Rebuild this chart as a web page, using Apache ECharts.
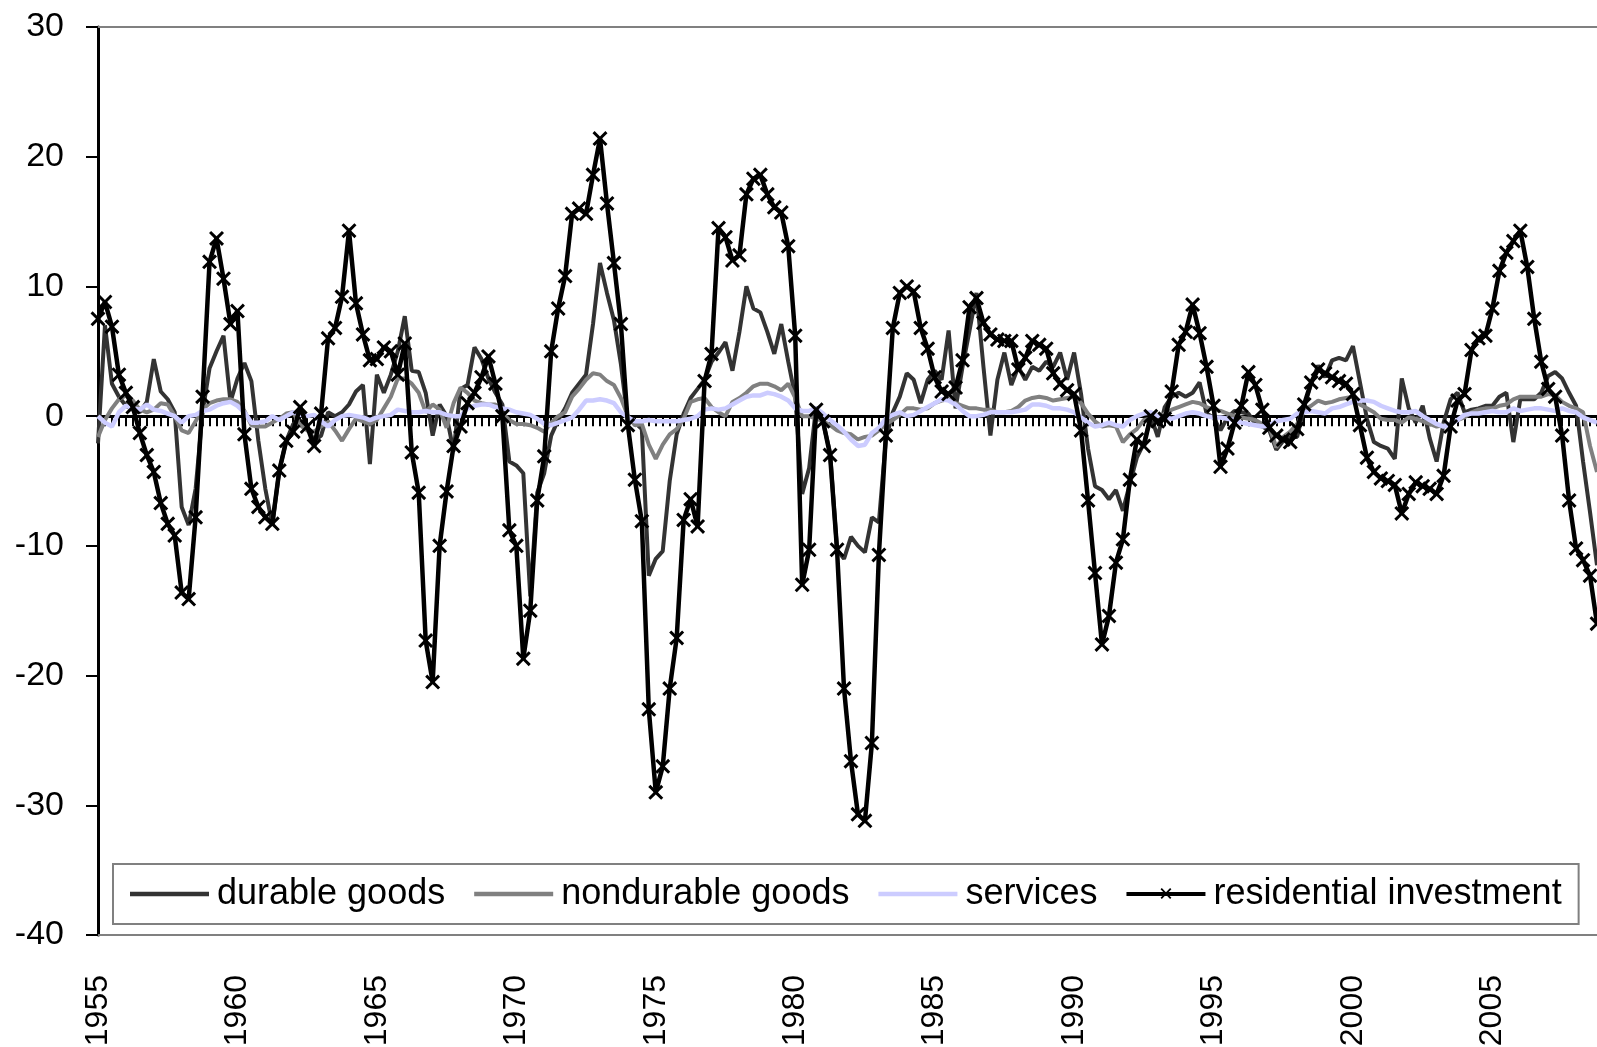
<!DOCTYPE html>
<html>
<head>
<meta charset="utf-8">
<script src="https://cdn.jsdelivr.net/npm/echarts@6/dist/echarts.min.js"></script>
<style>
html,body{margin:0;padding:0;background:#fff;}
#chart{width:1597px;height:1047px;}
</style>
</head>
<body>
<div id="chart"></div>
<script>
// Quarterly, 1955 Q1 .. 2008 Q4 (one row = one year)
var startYear = 1955;
var endYear = 2008;
var seriesNames = ['durable goods', 'nondurable goods', 'services', 'residential investment'];
var seriesColors = ['#333333', '#808080', '#ccccff', '#000000'];
var yTicks = [-40, -30, -20, -10, 0, 10, 20, 30];

var durable = [
  -2.1, 7.0, 2.5, 1.5,
  0.8, 0.5, 0.3, 1.1,
  4.4, 1.9, 1.3, 0.3,
  -7.0, -8.4, -5.6, 0.3,
  3.7, 5.0, 6.2, 1.1,
  2.9, 4.1, 2.7, -1.9,
  -5.6, -8.4, -4.2, -1.9,
  -0.6, -0.4, -0.8, -1.9,
  -1.5, 0.3, 0.0, 0.3,
  0.9, 1.9, 2.4, -3.7,
  3.2, 1.8, 3.2, 5.0,
  7.7, 3.5, 3.4, 1.8,
  -1.5, 0.9, 0.0, -2.7,
  2.1, 2.4, 5.3, 4.4,
  2.9, 1.8, 0.9, -3.5,
  -3.8, -4.4, -13.9, -5.9,
  -4.4, -1.5, -0.3, 0.6,
  1.8, 2.5, 3.2, 7.1,
  11.8, 9.5, 7.4, 4.0,
  -0.4, -0.5, -1.0, -12.3,
  -11.0, -10.4, -5.0, -1.4,
  0.2, 1.4, 2.1, 2.8,
  4.2, 4.9, 5.7, 3.5,
  6.5, 10.0, 8.3, 8.0,
  6.5, 4.8, 7.1, 4.2,
  1.5, -6.0, -4.0, 0.7,
  -0.5, -2.8, -10.3, -11.0,
  -9.3, -10.0, -10.5, -7.8,
  -8.2, -1.8, 0.3, 1.5,
  3.3, 2.8, 1.0, 2.8,
  3.5, 2.8, 6.6, 0.6,
  3.8, 6.6, 9.5, 3.8,
  -1.5, 2.8, 4.9, 2.4,
  3.8, 2.8, 3.8, 3.5,
  4.2, 3.8, 4.9, 2.8,
  4.9, 1.7, -2.5, -5.4,
  -5.7, -6.4, -5.7, -7.3,
  -5.2, -3.2, -2.1, 0.0,
  -1.6, 0.7, 1.5, 1.8,
  1.5, 1.8, 2.6, 0.2,
  -0.1, -1.1, -0.1, 0.4,
  0.3, 0.2, -0.6, -0.8,
  -1.1, -2.6, -1.9, -1.6,
  -1.6, 0.7, 2.5, 3.9,
  3.0, 4.3, 4.5, 4.3,
  5.4, 2.6, -0.2, -2.0,
  -2.3, -2.5, -3.3, 2.9,
  0.6, -0.5, 0.8, -1.7,
  -3.5, -0.5, 1.3, 1.8,
  0.3, 0.5, 0.6, 0.8,
  0.8, 1.5, 1.8, -2.0,
  1.3, 1.3, 1.3, 1.8,
  3.1, 3.4, 2.9, 1.8,
  0.8, -3.5, -7.4, -11.5
];

var nondurable = [
  -1.6, -0.3, 0.6, 1.3,
  1.6, 1.2, 0.5, 0.3,
  0.5, 1.0, 0.9, 0.0,
  -1.1, -1.3, -0.4, 0.5,
  1.0, 1.2, 1.3, 1.3,
  1.1, 0.4, -0.7, -0.8,
  -0.8, -0.5, -0.2, 0.2,
  0.3, -0.7, -1.1, -1.2,
  -0.8, -0.4, -1.1, -1.9,
  -1.0, -0.2, -0.4, -0.6,
  -0.3, 0.6, 1.5, 2.9,
  2.9, 2.5, 1.8, 0.3,
  0.9, 0.5, -0.9, 1.0,
  2.2, 1.8, 1.2, 1.0,
  0.9, 0.9, 0.2, -0.3,
  -0.6, -0.6, -0.7, -0.9,
  -1.2, -0.5, 0.0, 0.3,
  1.5, 2.1, 2.8, 3.3,
  3.2, 2.7, 2.4, 1.4,
  0.0, -0.7, -0.6, -2.2,
  -3.3, -2.2, -1.4, -1.0,
  -0.2, 1.1, 1.3, 1.4,
  0.7, 0.3, 0.0, 1.1,
  1.4, 1.8, 2.3, 2.5,
  2.5, 2.3, 2.0, 2.5,
  1.4, 0.0, 0.0, -0.2,
  -0.4, -0.7, -1.1, -1.3,
  -1.4, -1.8, -1.6, -1.5,
  -1.1, -0.6, -0.3, 0.1,
  0.6, 0.6, 0.5, 0.6,
  1.0, 1.2, 1.3, 1.0,
  0.8, 0.6, 0.6, 0.5,
  0.5, 0.3, 0.3, 0.4,
  0.7, 1.2, 1.4, 1.5,
  1.4, 1.2, 1.3, 1.4,
  1.5, 1.0, 0.2, -0.4,
  -0.8, -0.7, -0.8, -2.0,
  -1.4, -1.0, -0.3, -0.2,
  -0.2, 0.2, 0.5, 0.7,
  0.9, 1.1, 1.0, 0.7,
  0.5, 0.4, 0.2, 0.0,
  -0.1, -0.2, -0.3, -0.6,
  -0.8, -2.4, -1.6, -1.2,
  -0.6, 0.5, 0.8, 1.2,
  1.0, 1.1, 1.3, 1.4,
  1.5, 0.9, 0.6, 0.3,
  -0.2, -0.3, -0.3, -0.5,
  -0.1, -0.2, -0.4, -0.6,
  -0.8, -0.7, -0.6, -0.3,
  -0.1, 0.3, 0.5, 0.6,
  0.6, 0.8, 0.9, 1.3,
  1.5, 1.5, 1.5, 1.5,
  1.7, 1.6, 1.1, 0.8,
  0.6, 0.3, -2.3, -4.3
];

var services = [
  0.0, -0.5, -0.8, 0.3,
  0.8, 0.6, 0.5, 0.9,
  0.5, 0.4, 0.2, 0.0,
  -0.5, 0.0, 0.1, 0.4,
  0.5, 0.8, 1.0, 1.1,
  0.8, 0.3, -0.5, -0.5,
  -0.4, 0.0, -0.3, 0.0,
  0.3, 0.1, 0.0, 0.1,
  -0.4, -0.8, -0.3, 0.0,
  0.1, 0.0, -0.1, -0.3,
  -0.1, 0.0, 0.1, 0.5,
  0.4, 0.3, 0.3, 0.4,
  0.3, 0.3, 0.1, 0.0,
  0.0, 0.6, 0.8, 0.9,
  0.9, 0.7, 0.6, 0.5,
  0.3, 0.2, 0.1, -0.2,
  -0.6, -0.7, -0.5, -0.3,
  -0.1, 0.5, 1.2, 1.2,
  1.3, 1.2, 1.0, 0.3,
  -0.1, -0.4, -0.4, -0.3,
  -0.4, -0.4, -0.4, -0.4,
  -0.3, -0.2, 0.0, 0.5,
  0.6, 0.5, 0.6, 0.9,
  1.2, 1.5, 1.6, 1.6,
  1.8, 1.7, 1.5, 1.2,
  0.6, 0.4, 0.4, 0.6,
  0.2, -0.3, -0.7, -1.2,
  -1.8, -2.3, -2.2, -1.3,
  -0.9, -0.2, 0.1, 0.3,
  0.0, 0.1, 0.4, 0.7,
  1.0, 1.3, 1.2, 0.9,
  0.4, 0.0, 0.0, 0.1,
  0.3, 0.3, 0.3, 0.3,
  0.4, 0.5, 0.9, 0.9,
  0.8, 0.6, 0.6, 0.5,
  0.3, -0.1, -0.5, -0.8,
  -0.7, -0.5, -0.7, -0.8,
  -0.3, 0.0, 0.2, 0.3,
  0.0, -0.1, -0.2, 0.0,
  0.2, 0.3, 0.2, 0.0,
  -0.1, -0.1, -0.2, -0.3,
  -0.5, -0.6, -0.7, -0.8,
  -0.7, -0.4, -0.3, -0.2,
  0.2, 0.3, 0.4, 0.3,
  0.2, 0.6, 0.7, 0.9,
  1.1, 1.2, 1.2, 1.1,
  0.8, 0.6, 0.4, 0.3,
  0.3, 0.4, 0.0, -0.3,
  -0.6, -0.8, -0.6, -0.3,
  0.1, 0.2, 0.2, 0.3,
  0.4, 0.3, 0.3, 0.6,
  0.4, 0.5, 0.6, 0.6,
  0.5, 0.4, 0.6, 0.4,
  0.3, -0.1, -0.3, -0.5
];

var residential = [
  7.5, 8.8, 6.9, 3.2,
  1.8, 0.7, -1.3, -3.0,
  -4.3, -6.7, -8.3, -9.2,
  -13.6, -14.1, -7.8, 1.5,
  11.9, 13.7, 10.6, 7.1,
  8.1, -1.4, -5.6, -7.0,
  -7.8, -8.3, -4.2, -1.9,
  -1.2, 0.7, -0.8, -2.3,
  0.2, 6.0, 6.8, 9.2,
  14.3, 8.7, 6.3, 4.3,
  4.4, 5.3, 5.0, 3.2,
  5.6, -2.8, -5.9, -17.3,
  -20.5, -10.0, -5.8, -2.3,
  -0.8, 1.0, 1.8, 3.0,
  4.6, 2.5, 0.0, -8.8,
  -10.0, -18.7, -15.0, -6.5,
  -3.1, 5.0, 8.3, 10.8,
  15.6, 16.0, 15.6, 18.6,
  21.4, 16.4, 11.8, 7.1,
  -0.7, -4.9, -8.1, -22.6,
  -29.0, -27.0, -21.0, -17.1,
  -8.0, -6.4, -8.5, 2.7,
  4.8, 14.5, 13.8, 12.0,
  12.4, 17.1, 18.3, 18.6,
  17.1, 16.1, 15.7, 13.1,
  6.2, -13.0, -10.3, 0.5,
  -0.4, -3.0, -10.3, -21.0,
  -26.6, -30.7, -31.2, -25.2,
  -10.7, -1.5, 6.8, 9.5,
  10.0, 9.6, 6.8, 5.2,
  3.0, 1.9, 1.7, 2.2,
  4.3, 8.4, 9.1, 7.2,
  6.3, 5.9, 5.8, 5.8,
  3.6, 4.5, 5.8, 5.5,
  5.2, 3.3, 2.5, 2.0,
  1.7, -1.1, -6.5, -12.1,
  -17.6, -15.4, -11.3, -9.5,
  -4.9, -1.8, -2.3, 0.0,
  -0.4, -0.2, 1.9, 5.5,
  6.5, 8.6, 6.4, 3.8,
  0.8, -3.9, -2.5, -0.5,
  0.8, 3.4, 2.4, 0.5,
  -0.9, -1.5, -1.8, -2.0,
  -1.0, 0.9, 2.6, 3.6,
  3.3, 3.0, 2.7, 2.5,
  1.7, -0.7, -3.2, -4.3,
  -4.8, -5.0, -5.3, -7.5,
  -6.0, -5.1, -5.4, -5.6,
  -6.0, -4.6, -0.8, 1.2,
  1.7, 5.1, 6.0, 6.2,
  8.3, 11.2, 12.6, 13.5,
  14.3, 11.5, 7.5, 4.2,
  2.1, 1.5, -1.5, -6.5,
  -10.2, -11.1, -12.3, -16.0
];

var categories = [];
for (var y = startYear; y <= endYear; y++) {
  for (var q = 1; q <= 4; q++) categories.push(y + ' Q' + q);
}

var FONT = 'Liberation Sans, Arial, sans-serif';
var xMark = 'path://M0,1.4L1.4,0L5,3.6L8.6,0L10,1.4L6.4,5L10,8.6L8.6,10L5,6.4L1.4,10L0,8.6L3.6,5Z';
// legend icons (box 0..80 x 0..14): plain thick line, and line with an x in the middle
var iconLine = 'path://M0,0L0.01,0L0,0.01Z M80,14L79.99,14L80,13.99Z M0,4.7H80V9.3H0Z';
var iconLineX = 'path://M0,0L0.01,0L0,0.01Z M80,14L79.99,14L80,13.99Z M0,5H80V9H0Z ' +
  'M34.5,2.3L35.8,1L40,5.2L44.2,1L45.5,2.3L41.3,6.5L45.5,10.7L44.2,12L40,7.8L35.8,12L34.5,10.7L38.7,6.5Z';

var legendData = seriesNames.map(function (n, i) {
  return {name: n, icon: i === 3 ? iconLineX : iconLine, itemStyle: {color: seriesColors[i]}};
});

var chart = echarts.init(document.getElementById('chart'), null, {renderer: 'canvas'});
chart.setOption({
  animation: false,
  backgroundColor: '#fff',
  grid: {left: 98, right: 0, top: 27, bottom: 112, containLabel: false, outerBoundsMode: 'none'},
  legend: {
    data: legendData,
    left: 113, top: 864,
    width: 1480,
    orient: 'horizontal',
    padding: [12, 17, 12, 17],
    itemGap: 29,
    itemWidth: 79,
    itemHeight: 14,
    borderColor: '#808080',
    borderWidth: 2,
    backgroundColor: '#fff',
    selectedMode: false,
    textStyle: {fontSize: 36, color: '#000', fontFamily: FONT, padding: [0, 0, 0, 3]}
  },
  xAxis: [
    {
      type: 'category', data: categories, boundaryGap: false, position: 'bottom',
      axisLine: {onZero: false, lineStyle: {color: '#808080', width: 2}},
      axisTick: {show: false},
      splitLine: {show: false},
      axisLabel: {
        interval: 19, rotate: 90, fontSize: 32, color: '#000', fontFamily: FONT, margin: 40,
        formatter: function (v) { return v.slice(0, 4); }
      }
    },
    {
      type: 'category', data: categories, boundaryGap: false, position: 'bottom',
      axisLine: {onZero: true, lineStyle: {color: '#000', width: 3}},
      axisTick: {show: true, interval: 0, length: 10, lineStyle: {color: '#000', width: 2}},
      axisLabel: {show: false},
      splitLine: {show: false}
    },
    {
      type: 'category', data: categories, boundaryGap: false, position: 'top',
      axisLine: {onZero: false, lineStyle: {color: '#808080', width: 2}},
      axisTick: {show: false},
      axisLabel: {show: false},
      splitLine: {show: false}
    }
  ],
  yAxis: {
    type: 'value', min: yTicks[0], max: yTicks[yTicks.length - 1], interval: 10,
    axisLine: {show: true, onZero: false, lineStyle: {color: '#000', width: 3}},
    axisTick: {show: true, length: 12, lineStyle: {color: '#000', width: 2}},
    splitLine: {show: false},
    axisLabel: {fontSize: 34, color: '#000', fontFamily: FONT, margin: 34}
  },
  series: [
    {
      name: seriesNames[0], type: 'line', data: durable, xAxisIndex: 0,
      symbol: 'none', showSymbol: false,
      lineStyle: {color: seriesColors[0], width: 4}, itemStyle: {color: seriesColors[0]},
      emphasis: {disabled: true}
    },
    {
      name: seriesNames[1], type: 'line', data: nondurable, xAxisIndex: 0,
      symbol: 'none', showSymbol: false,
      lineStyle: {color: seriesColors[1], width: 4}, itemStyle: {color: seriesColors[1]},
      emphasis: {disabled: true}
    },
    {
      name: seriesNames[2], type: 'line', data: services, xAxisIndex: 0,
      symbol: 'none', showSymbol: false,
      lineStyle: {color: seriesColors[2], width: 4.5}, itemStyle: {color: seriesColors[2]},
      emphasis: {disabled: true}
    },
    {
      name: seriesNames[3], type: 'line', data: residential, xAxisIndex: 0,
      symbol: xMark, symbolSize: 15, showSymbol: true, showAllSymbol: true,
      lineStyle: {color: seriesColors[3], width: 4.5}, itemStyle: {color: seriesColors[3]},
      emphasis: {disabled: true}
    }
  ]
});
</script>
</body>
</html>
